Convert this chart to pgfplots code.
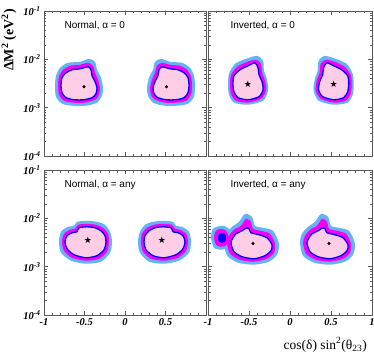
\documentclass[border=0pt]{standalone}
\usepackage{fontspec}
\setmainfont{Liberation Serif}
\newfontfamily\panelfont{Liberation Sans}
\newfontfamily\starfont{DejaVu Sans}
\usepackage{pgfplots}
\pgfplotsset{compat=1.18}

\definecolor{cthree}{RGB}{100,178,250}
\definecolor{ctwo}{RGB}{245,0,245}
\definecolor{cone}{RGB}{255,205,230}
\definecolor{cline}{RGB}{0,0,255}

\pgfplotsset{
  mypanel/.style={
    scale only axis, height=145pt, anchor=north west,
    xmin=-1, xmax=1, ymin=1e-4, ymax=1e-1,
    xtick={-1,-0.5,0,0.5,1}, minor x tick num=4,
    ytick={1e-4,1e-3,1e-2,1e-1},
    tick align=inside, major tick length=4pt, minor tick length=2.5pt,
    axis line style={black!65, line width=0.6pt},
    every tick/.append style={black!65, line width=0.5pt},
    tick label style={font=\fontsize{10.5}{10.5}\selectfont\bfseries\itshape},
    xticklabels={}, yticklabels={},
  },
  ylabs/.style={yticklabels={10\textsuperscript{-4},10\textsuperscript{-3},10\textsuperscript{-2},10\textsuperscript{-1}}},
  s3/.style={draw=none, fill=cthree, smooth cycle, tension=0.45},
  s2/.style={draw=none, fill=ctwo, smooth cycle, tension=0.45},
  s1/.style={draw=cline, line width=1.3pt, fill=cone, smooth cycle, tension=0.45},
  dotbf/.style={only marks, mark=*, mark size=1.3pt, black},
  starbf/.style={only marks, mark=text, text mark as node=true,
    text mark={\starfont\fontsize{9}{9}\selectfont ★}},
}
\tikzset{ptitle/.style={anchor=west, font=\panelfont\fontsize{10}{10}\selectfont}}

\begin{document}
\begin{tikzpicture}
\path[use as bounding box] (0,0) rectangle (374pt,-355pt);

% ---------------- Normal, alpha = 0
\begin{axis}[ymode=log, mypanel, ylabs, width=162pt, at={(44pt,-11pt)},
  ylabel={\bfseries ΔM\textsuperscript{2} (eV\textsuperscript{2})},
  ylabel style={at={(rel axis cs:-0.216,0.8)}, anchor=center, font=\fontsize{14}{14}\selectfont}]
\addplot[s3] coordinates {(-0.704,8.47e-3) (-0.556,8.87e-3) (-0.444,1.024e-2) (-0.370,8.87e-3) (-0.346,6.08e-3) (-0.296,4.16e-3) (-0.272,2.58e-3) (-0.284,1.77e-3) (-0.346,1.27e-3) (-0.481,1.10e-3) (-0.654,1.10e-3) (-0.778,1.21e-3) (-0.852,1.69e-3) (-0.864,2.84e-3) (-0.852,4.57e-3) (-0.802,6.68e-3)};
\addplot[s3] coordinates {(0.704,8.47e-3) (0.556,8.87e-3) (0.444,1.024e-2) (0.370,8.87e-3) (0.346,6.08e-3) (0.296,4.16e-3) (0.272,2.58e-3) (0.284,1.77e-3) (0.346,1.27e-3) (0.481,1.10e-3) (0.654,1.10e-3) (0.778,1.21e-3) (0.852,1.69e-3) (0.864,2.84e-3) (0.852,4.57e-3) (0.802,6.68e-3)};
\addplot[s2] coordinates {(-0.679,7.35e-3) (-0.556,7.71e-3) (-0.457,8.47e-3) (-0.395,7.35e-3) (-0.370,5.27e-3) (-0.333,3.78e-3) (-0.309,2.58e-3) (-0.321,1.85e-3) (-0.370,1.46e-3) (-0.494,1.27e-3) (-0.642,1.27e-3) (-0.753,1.39e-3) (-0.815,1.85e-3) (-0.827,2.84e-3) (-0.815,4.36e-3) (-0.765,6.08e-3)};
\addplot[s2] coordinates {(0.679,7.35e-3) (0.556,7.71e-3) (0.457,8.47e-3) (0.395,7.35e-3) (0.370,5.27e-3) (0.333,3.78e-3) (0.309,2.58e-3) (0.321,1.85e-3) (0.370,1.46e-3) (0.494,1.27e-3) (0.642,1.27e-3) (0.753,1.39e-3) (0.815,1.85e-3) (0.827,2.84e-3) (0.815,4.36e-3) (0.765,6.08e-3)};
\addplot[s1] coordinates {(-0.654,6.08e-3) (-0.556,6.37e-3) (-0.457,7.00e-3) (-0.420,6.08e-3) (-0.407,4.57e-3) (-0.370,3.44e-3) (-0.346,2.58e-3) (-0.358,1.94e-3) (-0.407,1.61e-3) (-0.506,1.46e-3) (-0.630,1.46e-3) (-0.728,1.61e-3) (-0.778,2.04e-3) (-0.790,2.84e-3) (-0.778,4.16e-3) (-0.728,5.27e-3)};
\addplot[s1] coordinates {(0.654,6.08e-3) (0.556,6.37e-3) (0.457,7.00e-3) (0.420,6.08e-3) (0.407,4.57e-3) (0.370,3.44e-3) (0.346,2.58e-3) (0.358,1.94e-3) (0.407,1.61e-3) (0.506,1.46e-3) (0.630,1.46e-3) (0.728,1.61e-3) (0.778,2.04e-3) (0.790,2.84e-3) (0.778,4.16e-3) (0.728,5.27e-3)};
\addplot[dotbf] coordinates {(-0.506,2.71e-3) (0.512,2.71e-3)};
\node[ptitle] at (rel axis cs:0.105,0.897) {Normal, α = 0};
\end{axis}

% ---------------- Inverted, alpha = 0
\begin{axis}[ymode=log, mypanel, width=164pt, at={(208pt,-11pt)}]
\addplot[s3] coordinates {(-0.756,2.98e-3) (-0.744,5.03e-3) (-0.671,8.07e-3) (-0.537,1.024e-2) (-0.402,1.18e-2) (-0.329,9.31e-3) (-0.317,5.79e-3) (-0.280,3.78e-3) (-0.268,2.24e-3) (-0.329,1.39e-3) (-0.512,1.15e-3) (-0.683,1.27e-3) (-0.744,1.85e-3)};
\addplot[s3] coordinates {(0.776,2.98e-3) (0.764,5.03e-3) (0.691,8.07e-3) (0.557,1.024e-2) (0.422,1.18e-2) (0.349,9.31e-3) (0.337,5.79e-3) (0.300,3.78e-3) (0.288,2.24e-3) (0.349,1.39e-3) (0.532,1.15e-3) (0.703,1.27e-3) (0.764,1.85e-3)};
\addplot[s2] coordinates {(-0.732,3.12e-3) (-0.720,4.79e-3) (-0.646,7.00e-3) (-0.524,8.87e-3) (-0.415,9.77e-3) (-0.354,8.07e-3) (-0.341,5.27e-3) (-0.305,3.61e-3) (-0.293,2.24e-3) (-0.354,1.53e-3) (-0.512,1.27e-3) (-0.659,1.39e-3) (-0.720,1.94e-3)};
\addplot[s2] coordinates {(0.752,3.12e-3) (0.740,4.79e-3) (0.666,7.00e-3) (0.544,8.87e-3) (0.435,9.77e-3) (0.374,8.07e-3) (0.361,5.27e-3) (0.325,3.61e-3) (0.313,2.24e-3) (0.374,1.53e-3) (0.532,1.27e-3) (0.679,1.39e-3) (0.740,1.94e-3)};
\addplot[s1] coordinates {(-0.695,3.12e-3) (-0.683,4.57e-3) (-0.610,6.08e-3) (-0.512,7.35e-3) (-0.427,8.47e-3) (-0.390,6.68e-3) (-0.378,4.79e-3) (-0.341,3.44e-3) (-0.329,2.35e-3) (-0.378,1.69e-3) (-0.512,1.46e-3) (-0.634,1.61e-3) (-0.683,2.14e-3)};
\addplot[s1] coordinates {(0.715,3.12e-3) (0.703,4.57e-3) (0.630,6.08e-3) (0.532,7.35e-3) (0.447,8.47e-3) (0.410,6.68e-3) (0.398,4.79e-3) (0.361,3.44e-3) (0.349,2.35e-3) (0.398,1.69e-3) (0.532,1.46e-3) (0.654,1.61e-3) (0.703,2.14e-3)};
\addplot[starbf] coordinates {(-0.512,3.08e-3) (0.532,3.08e-3)};
\node[ptitle] at (rel axis cs:0.116,0.897) {Inverted, α = 0};
\end{axis}

% ---------------- Normal, alpha = any
\begin{axis}[ymode=log, mypanel, ylabs, width=162pt, at={(44pt,-170pt)},
  xticklabels={-1,-0.5,0,0.5,{}}]
\addplot[s3] coordinates {(-0.593,8.47e-3) (-0.469,8.87e-3) (-0.346,8.47e-3) (-0.247,7.35e-3) (-0.185,5.27e-3) (-0.160,3.27e-3) (-0.185,1.94e-3) (-0.296,1.27e-3) (-0.481,1.15e-3) (-0.667,1.33e-3) (-0.790,1.94e-3) (-0.815,3.27e-3) (-0.790,5.27e-3) (-0.704,6.68e-3) (-0.630,7.00e-3)};
\addplot[s3] coordinates {(0.593,8.47e-3) (0.469,8.87e-3) (0.346,8.47e-3) (0.247,7.35e-3) (0.185,5.27e-3) (0.160,3.27e-3) (0.185,1.94e-3) (0.296,1.27e-3) (0.481,1.15e-3) (0.667,1.33e-3) (0.790,1.94e-3) (0.815,3.27e-3) (0.790,5.27e-3) (0.704,6.68e-3) (0.630,7.00e-3)};
\addplot[s2] coordinates {(-0.580,7.35e-3) (-0.469,7.71e-3) (-0.358,7.35e-3) (-0.272,6.37e-3) (-0.210,4.79e-3) (-0.198,3.27e-3) (-0.222,2.04e-3) (-0.321,1.46e-3) (-0.481,1.33e-3) (-0.654,1.53e-3) (-0.753,2.14e-3) (-0.778,3.27e-3) (-0.753,4.79e-3) (-0.679,5.79e-3) (-0.617,6.08e-3)};
\addplot[s2] coordinates {(0.580,7.35e-3) (0.469,7.71e-3) (0.358,7.35e-3) (0.272,6.37e-3) (0.210,4.79e-3) (0.198,3.27e-3) (0.222,2.04e-3) (0.321,1.46e-3) (0.481,1.33e-3) (0.654,1.53e-3) (0.753,2.14e-3) (0.778,3.27e-3) (0.753,4.79e-3) (0.679,5.79e-3) (0.617,6.08e-3)};
\addplot[s1] coordinates {(-0.568,6.37e-3) (-0.469,6.68e-3) (-0.370,6.37e-3) (-0.296,5.52e-3) (-0.247,4.36e-3) (-0.235,3.27e-3) (-0.259,2.24e-3) (-0.346,1.69e-3) (-0.481,1.53e-3) (-0.630,1.77e-3) (-0.716,2.35e-3) (-0.741,3.27e-3) (-0.716,4.36e-3) (-0.654,5.03e-3) (-0.593,5.27e-3)};
\addplot[s1] coordinates {(0.568,6.37e-3) (0.469,6.68e-3) (0.370,6.37e-3) (0.296,5.52e-3) (0.247,4.36e-3) (0.235,3.27e-3) (0.259,2.24e-3) (0.346,1.69e-3) (0.481,1.53e-3) (0.630,1.77e-3) (0.716,2.35e-3) (0.741,3.27e-3) (0.716,4.36e-3) (0.654,5.03e-3) (0.593,5.27e-3)};
\addplot[starbf] coordinates {(-0.457,3.44e-3) (0.457,3.44e-3)};
\node[ptitle] at (rel axis cs:0.105,0.897) {Normal, α = any};
\end{axis}

% ---------------- Inverted, alpha = any
\begin{axis}[ymode=log, mypanel, width=164pt, at={(208pt,-170pt)},
  xticklabels={-1,-0.5,0,0.5,1},
  xlabel={cos(δ) sin\textsuperscript{2}(θ\textsubscript{23})},
  xlabel style={at={(rel axis cs:0.99,-0.205)}, anchor=east, font=\fontsize{13.5}{13.5}\selectfont}]
% island near cos(delta) sin^2 = -0.85
\addplot[s3] coordinates {(-0.841,7.00e-3) (-0.756,6.37e-3) (-0.707,3.96e-3) (-0.732,2.58e-3) (-0.841,2.24e-3) (-0.927,2.47e-3) (-0.963,3.96e-3) (-0.939,6.08e-3)};
\addplot[s3] coordinates {(-0.805,3.12e-3) (-0.781,4.79e-3) (-0.707,6.68e-3) (-0.622,8.47e-3) (-0.549,1.239e-2) (-0.464,1.074e-2) (-0.427,7.00e-3) (-0.329,6.37e-3) (-0.207,5.52e-3) (-0.134,2.98e-3) (-0.159,1.77e-3) (-0.256,1.27e-3) (-0.439,1.10e-3) (-0.634,1.21e-3) (-0.768,1.69e-3)};
\addplot[s3] coordinates {(0.122,3.12e-3) (0.146,4.79e-3) (0.220,6.68e-3) (0.305,8.47e-3) (0.378,1.239e-2) (0.463,1.074e-2) (0.500,7.00e-3) (0.598,6.37e-3) (0.720,5.52e-3) (0.793,2.98e-3) (0.768,1.77e-3) (0.671,1.27e-3) (0.488,1.10e-3) (0.293,1.21e-3) (0.159,1.69e-3)};
\addplot[s2] coordinates {(-0.841,6.08e-3) (-0.780,5.52e-3) (-0.744,3.96e-3) (-0.768,2.84e-3) (-0.841,2.58e-3) (-0.902,2.84e-3) (-0.927,3.96e-3) (-0.902,5.52e-3)};
\addplot[s2] coordinates {(-0.768,3.12e-3) (-0.744,4.36e-3) (-0.683,5.79e-3) (-0.598,7.00e-3) (-0.537,9.77e-3) (-0.476,8.47e-3) (-0.451,6.08e-3) (-0.354,5.52e-3) (-0.244,4.79e-3) (-0.183,2.98e-3) (-0.195,1.94e-3) (-0.281,1.46e-3) (-0.439,1.27e-3) (-0.610,1.39e-3) (-0.732,1.85e-3)};
\addplot[s2] coordinates {(0.159,3.12e-3) (0.183,4.36e-3) (0.244,5.79e-3) (0.329,7.00e-3) (0.390,9.77e-3) (0.451,8.47e-3) (0.476,6.08e-3) (0.573,5.52e-3) (0.683,4.79e-3) (0.744,2.98e-3) (0.732,1.94e-3) (0.646,1.46e-3) (0.488,1.27e-3) (0.317,1.39e-3) (0.195,1.85e-3)};
\addplot[draw=none, fill=cline, smooth cycle] coordinates {(-0.829,5.03e-3) (-0.793,4.79e-3) (-0.780,3.96e-3) (-0.793,3.27e-3) (-0.829,3.12e-3) (-0.866,3.27e-3) (-0.878,3.96e-3) (-0.866,4.79e-3)};
\addplot[s1] coordinates {(-0.720,3.12e-3) (-0.695,3.96e-3) (-0.659,4.79e-3) (-0.586,5.52e-3) (-0.525,6.37e-3) (-0.500,6.08e-3) (-0.476,5.03e-3) (-0.378,4.57e-3) (-0.281,3.96e-3) (-0.220,2.84e-3) (-0.232,2.14e-3) (-0.305,1.69e-3) (-0.439,1.46e-3) (-0.586,1.61e-3) (-0.683,2.04e-3)};
\addplot[s1] coordinates {(0.207,3.12e-3) (0.232,3.96e-3) (0.268,4.79e-3) (0.341,5.52e-3) (0.402,6.37e-3) (0.427,6.08e-3) (0.451,5.03e-3) (0.549,4.57e-3) (0.646,3.96e-3) (0.707,2.84e-3) (0.695,2.14e-3) (0.622,1.69e-3) (0.488,1.46e-3) (0.341,1.61e-3) (0.244,2.04e-3)};
\addplot[dotbf] coordinates {(-0.451,3.02e-3) (0.476,3.02e-3)};
\node[ptitle] at (rel axis cs:0.116,0.897) {Inverted, α = any};
\end{axis}
\end{tikzpicture}
\end{document}
